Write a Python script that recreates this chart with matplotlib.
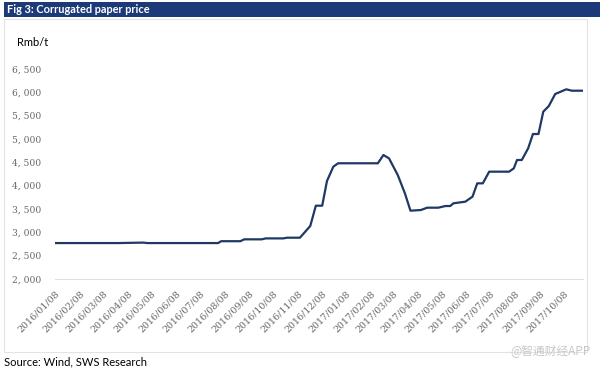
import numpy as np
import pandas as pd
import matplotlib
matplotlib.use("Agg")
import matplotlib.pyplot as plt
from matplotlib.patches import Rectangle

# values (Rmb/t)
dates = ["2016-01-08", "2016-03-27", "2016-04-28", "2016-05-03", "2016-07-31",
         "2016-08-04", "2016-08-28", "2016-09-02", "2016-09-24", "2016-09-29",
         "2016-10-21", "2016-10-26", "2016-11-11", "2016-11-24", "2016-12-01",
         "2016-12-09", "2016-12-15", "2016-12-23", "2016-12-29", "2017-02-17",
         "2017-02-24", "2017-03-03", "2017-03-14", "2017-03-23", "2017-03-30",
         "2017-04-12", "2017-04-20", "2017-05-04", "2017-05-13", "2017-05-19",
         "2017-05-23", "2017-06-07", "2017-06-16", "2017-06-22", "2017-06-29",
         "2017-07-07", "2017-08-01", "2017-08-07", "2017-08-11", "2017-08-17",
         "2017-08-25", "2017-08-31", "2017-09-07", "2017-09-13", "2017-09-20",
         "2017-09-28", "2017-10-12", "2017-10-19", "2017-11-02"]
price = [2770, 2770, 2780, 2770, 2770,
         2810, 2810, 2850, 2850, 2870,
         2870, 2885, 2885, 3136, 3571,
         3571, 4100, 4407, 4480, 4480,
         4657, 4586, 4229, 3836, 3464,
         3478, 3528, 3528, 3564, 3564,
         3622, 3657, 3764, 4050, 4050,
         4300, 4300, 4372, 4550, 4550,
         4800, 5107, 5107, 5585, 5707,
         5964, 6065, 6035, 6035]
tick_dates = pd.date_range("2016-01-01", "2017-10-01", freq="MS") + pd.Timedelta(days=7)
yticks = [2000, 2500, 3000, 3500, 4000, 4500, 5000, 5500, 6000, 6500]

x = pd.to_datetime(dates)

fig = plt.figure(figsize=(6, 3.72), dpi=100)

# title bar
fig.patches.append(Rectangle((0.007, 0.953), 0.993, 0.042, transform=fig.transFigure,
                             facecolor="#1c3a78", edgecolor="none"))
fig.text(0.012, 0.974, "Fig 3: Corrugated paper price", color="white",
         fontsize=7.9, fontweight="bold", family="Lato", va="center")
# light frame round the chart
fig.patches.append(Rectangle((0.006, 0.054), 0.972, 0.895, transform=fig.transFigure,
                             facecolor="none", edgecolor="#e3e3e3", lw=0.8))

ax = fig.add_axes([0.0917, 0.25, 0.88, 0.5645])
ax.plot(x, price, color="#1f3864", lw=1.6, solid_joinstyle="round")

ax.set_xlim(x[0], x[-1])
ax.set_ylim(2000, 6500)
ax.set_yticks(yticks)
ax.set_yticklabels([f"{v:,}".replace(",", ", ") for v in yticks],
                   family="DejaVu Serif", fontsize=6.6, color="#666666")
ax.set_xticks(tick_dates)
ax.set_xticklabels([d.strftime("%Y/%m/%d") for d in tick_dates],
                   family="DejaVu Serif", fontsize=6.8, color="#666666",
                   rotation=45, ha="right", rotation_mode="anchor")
ax.tick_params(axis="both", length=0)
ax.tick_params(axis="x", pad=7)
ax.tick_params(axis="y", pad=10)
for s in ["top", "right", "left"]:
    ax.spines[s].set_visible(False)
ax.spines["bottom"].set_color("#e0e0e0")
ax.spines["bottom"].set_linewidth(0.8)

fig.text(0.028, 0.885, "Rmb/t", fontsize=8, family="Lato", va="center")
fig.text(0.007, 0.027, "Source: Wind, SWS Research", fontsize=8, family="Lato", va="center")
fig.text(0.985, 0.058, "@智通财经APP", fontsize=8.5, color="#c8c8c8", ha="right",
         va="center", family=["Noto Sans CJK SC", "DejaVu Sans"])

fig.savefig("out.png", dpi=100)
